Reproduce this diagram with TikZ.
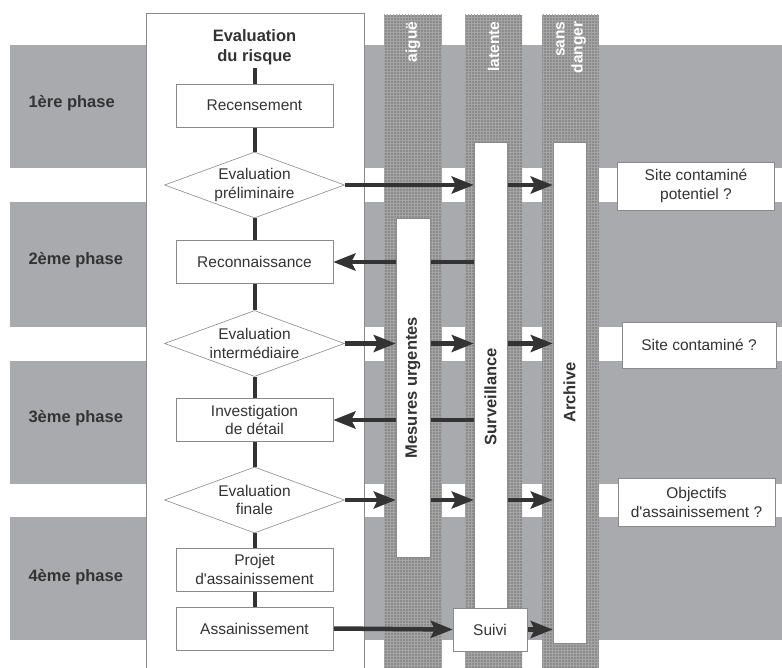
\documentclass[tikz,border=0pt]{standalone}
\usepackage{fontspec}
\setmainfont{Liberation Sans}
\usetikzlibrary{shapes.geometric,arrows.meta,patterns}
\definecolor{bandgray}{HTML}{A9AAAD}
\definecolor{colgray}{HTML}{8C8C8C}
\definecolor{dotgray}{HTML}{A4A4A4}
\definecolor{inkdark}{HTML}{333333}
\definecolor{edgegray}{HTML}{8A8A8A}
\newcommand\stepfont{\fontsize{15.5}{18.5}\selectfont}
\newcommand\headfont{\bfseries\fontsize{16.5}{19.5}\selectfont}
\newcommand\colfont{\bfseries\fontsize{15.5}{18}\selectfont}
\pgfdeclarelayer{bg}
\pgfdeclarelayer{links}
\pgfsetlayers{bg,links,main}
\tikzset{>=Stealth}
\tikzset{
  stepnode/.style={draw=edgegray, line width=0.6pt, fill=white, minimum width=157pt,
    minimum height=43pt, align=center, font=\stepfont, text=inkdark},
  test/.style={diamond, draw=edgegray, line width=0.6pt, fill=white, aspect=2.7,
    inner sep=0pt, minimum width=180pt, minimum height=66pt, align=center,
    font=\stepfont, text=inkdark},
  question/.style={stepnode, minimum width=157pt, minimum height=48pt},
  slot/.style={draw=edgegray, line width=0.5pt, fill=white, inner sep=0pt},
  slotlabel/.style={rotate=90, font=\headfont, text=inkdark},
  phase/.style={anchor=west, font=\headfont, text=inkdark},
  colhead/.style={rotate=90, anchor=east, align=right, text=white, font=\colfont},
  bar/.style={inkdark, line width=4pt},
  flow/.style={inkdark, line width=4.5pt, -{Stealth[length=22pt,width=17pt,inset=4pt]}}
}
\begin{document}
\begin{tikzpicture}[x=1pt,y=-1pt]
  \useasboundingbox (0,0) rectangle (782,668);
  \begin{pgfonlayer}{bg}
    % phase bands
    \foreach \top/\bot in {45/168,202/327,361/484,517/640}
      \fill[bandgray] (10,\top) rectangle (782,\bot);
    % state columns
    \foreach \l/\r in {384/442,465/522,542/599}{
      \fill[colgray] (\l,15) rectangle (\r,668);
      \fill[pattern=grid, pattern color=dotgray] (\l,15) rectangle (\r,668);
    }
    \draw[edgegray, fill=white, line width=0.6pt] (146,13) rectangle (364,672);
  \end{pgfonlayer}

  \node[phase] (ph1) at (25,103) {1ère phase};
  \node[phase] (ph2) at (25,260) {2ème phase};
  \node[phase] (ph3) at (25,418) {3ème phase};
  \node[phase] (ph4) at (25,577) {4ème phase};

  \node[colhead] (acute) at (413,18) {aiguë};
  \node[colhead] (latent) at (493.5,18) {latente};
  \node[colhead] (safe) at (571,18) {sans\\danger};

  % evaluation du risque
  \node[font=\headfont, text=inkdark, align=center] (risk) at (254.5,47) {Evaluation\\du risque};
  \node[stepnode] (census) at (254.5,105.5) {Recensement};
  \node[test] (prelim) at (254.5,185) {Evaluation\\préliminaire};
  \node[stepnode] (recon) at (254.5,262) {Reconnaissance};
  \node[test] (interm) at (254.5,343.5) {Evaluation\\intermédiaire};
  \node[stepnode] (detail) at (254.5,420) {Investigation\\de détail};
  \node[test] (final) at (254.5,500) {Evaluation\\finale};
  \node[stepnode] (project) at (254.5,569.5) {Projet\\d\textquotesingle assainissement};
  \node[stepnode] (remed) at (254.5,628.5) {Assainissement};

  % boxes in the columns
  \node[slot, minimum width=34pt, minimum height=339pt] (urgent) at (413,387.5) {};
  \node[slot, minimum width=33pt, minimum height=509pt] (surv) at (490.5,396.5) {};
  \node[slot, minimum width=33pt, minimum height=501pt] (arch) at (569.5,392.5) {};
  \node[slot, minimum width=74pt, minimum height=43pt, font=\stepfont, text=inkdark] (follow) at (490,629.5) {Suivi};
  \node[slotlabel] (urgenttext) at (urgent.center) {Mesures urgentes};
  \node[slotlabel] (survtext) at (surv.center) {Surveillance};
  \node[slotlabel] (archtext) at (arch.center) {Archive};

  \node[question] (q1) at (696,186) {Site contaminé\\potentiel ?};
  \node[question, minimum width=154pt, minimum height=46pt] (q2) at (699,345) {Site contaminé ?};
  \node[question] (q3) at (696.5,502.5) {Objectifs\\d\textquotesingle assainissement ?};

  \begin{pgfonlayer}{links}
    \draw[bar] (risk) -- (census);
    \draw[bar] (census) -- (prelim);
    \draw[bar] (prelim) -- (recon);
    \draw[bar] (recon) -- (interm);
    \draw[bar] (interm) -- (detail);
    \draw[bar] (detail) -- (final);
    \draw[bar] (final) -- (project);
    \draw[bar] (project) -- (remed);

    \draw[flow] (prelim.east) -- (prelim.east -| surv.west);
    \draw[flow] (prelim.east -| surv.east) -- (prelim.east -| arch.west);
    \draw[flow] (recon.east -| surv.west) -- (recon.east);
    \draw[flow] (interm.east) -- (interm.east -| urgent.west);
    \draw[flow] (interm.east -| urgent.east) -- (interm.east -| surv.west);
    \draw[flow] (interm.east -| surv.east) -- (interm.east -| arch.west);
    \draw[flow] (detail.east -| surv.west) -- (detail.east);
    \draw[flow] (final.east) -- (final.east -| urgent.west);
    \draw[flow] (final.east -| urgent.east) -- (final.east -| surv.west);
    \draw[flow] (final.east -| surv.east) -- (final.east -| arch.west);
    \draw[flow] (remed.east) -- (follow.west);
    \draw[flow] (follow.east) -- (follow.east -| arch.west);
  \end{pgfonlayer}
\end{tikzpicture}
\end{document}
